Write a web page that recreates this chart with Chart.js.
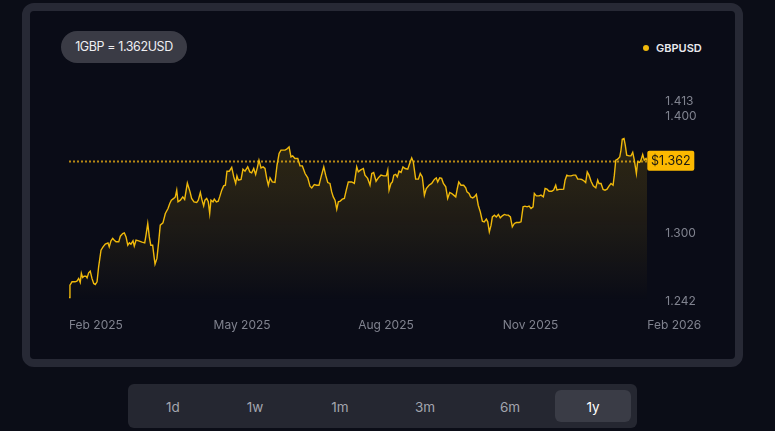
<!DOCTYPE html>
<html>
<head>
<meta charset="utf-8">
<script src="https://cdn.jsdelivr.net/npm/chart.js@4/dist/chart.umd.min.js"></script>
<style>
  html, body { margin:0; padding:0; }
  body { width:775px; height:431px; background:#0b0d17; position:relative; overflow:hidden; font-family: Inter, "Noto Sans", sans-serif; }
  #card { position:absolute; left:22px; top:3px; width:721px; height:364px; box-sizing:border-box; border:8px solid #272935; border-radius:12px; background:#0a0c17; }
  #chartwrap { position:absolute; left:0; top:0; width:775px; height:431px; }
  #pill { position:absolute; left:61px; top:31px; width:126px; height:32px; border-radius:16px; background:#3a3b45; color:#eeeef2; font-size:12.5px; line-height:32px; text-align:center; letter-spacing:-0.4px; }
  #legend { position:absolute; left:643px; top:40px; height:16px; display:flex; align-items:center; color:#e9e9ee; font-size:11px; font-weight:600; }
  #legend .dot { width:6px; height:6px; border-radius:3px; background:#f0b90b; margin-right:7px; }
  #bar { position:absolute; left:128px; top:384px; width:509px; height:44px; border-radius:6px; background:#252731; }
  .btn { position:absolute; top:0; height:44px; line-height:46px; width:76px; text-align:center; color:#a3a5ae; font-size:13.5px; }
  .btn.sel { top:6px; height:32px; line-height:34px; background:#3a3c46; border-radius:6px; color:#ffffff; }
</style>
</head>
<body>
<div id="card"></div>
<div id="pill"></div>
<div id="legend"><span class="dot"></span><span id="legendText">GBPUSD</span></div>
<div id="bar"></div>
<div id="chartwrap"><canvas id="c" width="775" height="431"></canvas></div>
<script>
// ---- data ----
const seriesName = "GBPUSD";
// day offset from start (Feb 2025) for each observation
const days = [0,0.6,1.9,3.8,5.0,6.1,7.1,7.8,8.6,9.5,10.7,11.4,12.4,13.4,14.5,15.6,16.6,17.7,18.7,20.2,21.5,22.9,24.6,25.4,26.5,27.6,28.6,29.7,31.4,32.4,33.9,34.9,36.0,37.1,38.1,39.1,40.4,41.2,42.3,44.0,46.1,47.8,48.6,49.7,50.7,51.6,52.8,53.7,54.3,55.5,56.6,57.6,59.3,60.8,62.5,63.6,64.6,66.1,67.1,68.0,68.8,70.3,71.8,73.0,74.7,76.4,77.4,78.9,80.6,81.6,82.9,83.8,85.0,85.8,86.9,87.9,88.8,89.6,90.9,91.7,93.0,94.2,95.1,96.4,97.6,98.7,99.7,101.2,102.7,104.0,105.2,106.0,106.9,108.6,109.8,111.1,112.8,114.1,115.3,116.6,117.8,118.9,119.9,121.2,122.5,123.7,124.8,125.8,126.9,128.3,130.0,131.3,132.6,133.8,136.3,137.4,138.9,140.1,141.2,142.6,144.4,145.8,147.3,149.0,150.7,152.1,153.2,154.8,156.3,157.8,159.1,160.8,162.0,163.3,164.7,165.8,166.8,167.9,169.0,170.0,171.2,172.5,173.8,175.0,176.3,178.4,180.1,181.6,182.6,183.9,185.8,186.8,188.5,190.0,191.1,192.3,193.8,195.2,196.9,198.6,200.3,201.2,202.0,203.2,204.1,205.0,206.2,207.2,208.3,209.6,210.8,212.1,213.8,215.0,216.3,217.3,218.8,220.5,221.7,223.0,224.3,225.5,227.2,228.9,230.6,231.8,232.7,234.0,235.2,236.3,237.8,239.0,240.3,241.6,242.8,244.1,245.1,246.0,247.4,249.1,250.4,251.2,252.5,253.5,254.8,255.8,257.1,258.3,259.6,260.9,262.1,263.4,264.3,265.3,266.4,267.2,268.5,269.7,271.0,272.2,273.5,274.8,276.0,277.3,278.6,279.8,281.1,282.4,284.1,285.3,286.6,287.8,289.1,290.4,291.6,292.9,293.7,295.0,296.7,297.9,299.4,300.5,301.7,303.0,304.7,305.9,307.2,308.0,309.3,311.0,312.2,313.1,314.2,315.2,316.9,318.3,319.8,321.1,322.5,323.6,325.3,326.1,327.1,328.2,329.5,330.9,332.5,333.7,334.5,335.8,337.1,338.3,339.6,340.8,342.1,343.4,344.2,345.1,346.3,347.6,348.4,349.2,350.3,351.1,352.0,353.5,354.7,355.8,356.8,358.1,358.9,360.2,361.0,362.1,363.1,364.2,365.0];
const rates = [1.2450,1.2556,1.2584,1.2584,1.2590,1.2613,1.2579,1.2656,1.2621,1.2632,1.2632,1.2618,1.2661,1.2675,1.2613,1.2570,1.2561,1.2584,1.2712,1.2855,1.2883,1.2906,1.2917,1.2883,1.2934,1.2955,1.2940,1.2926,1.2926,1.2974,1.2997,1.3003,1.2968,1.2897,1.2917,1.2906,1.2934,1.2889,1.2940,1.2934,1.2923,1.2917,1.2983,1.3083,1.2968,1.2897,1.2897,1.2797,1.2735,1.2784,1.2926,1.3068,1.3088,1.3168,1.3211,1.3254,1.3282,1.3297,1.3310,1.3368,1.3268,1.3282,1.3310,1.3288,1.3428,1.3353,1.3297,1.3268,1.3262,1.3282,1.3348,1.3291,1.3233,1.3282,1.3297,1.3268,1.3168,1.3282,1.3268,1.3291,1.3268,1.3274,1.3310,1.3368,1.3404,1.3410,1.3530,1.3530,1.3562,1.3481,1.3425,1.3490,1.3453,1.3459,1.3547,1.3530,1.3567,1.3524,1.3516,1.3553,1.3502,1.3562,1.3624,1.3558,1.3567,1.3553,1.3468,1.3410,1.3473,1.3438,1.3433,1.3581,1.3681,1.3710,1.3710,1.3718,1.3738,1.3652,1.3661,1.3639,1.3639,1.3575,1.3575,1.3510,1.3473,1.3402,1.3387,1.3416,1.3410,1.3410,1.3481,1.3567,1.3496,1.3433,1.3425,1.3353,1.3310,1.3282,1.3205,1.3268,1.3274,1.3291,1.3297,1.3368,1.3438,1.3438,1.3425,1.3567,1.3524,1.3539,1.3553,1.3496,1.3468,1.3410,1.3510,1.3519,1.3444,1.3473,1.3496,1.3490,1.3490,1.3539,1.3368,1.3425,1.3438,1.3496,1.3502,1.3481,1.3530,1.3519,1.3567,1.3553,1.3547,1.3596,1.3644,1.3610,1.3462,1.3462,1.3510,1.3481,1.3325,1.3382,1.3410,1.3425,1.3459,1.3473,1.3438,1.3473,1.3468,1.3425,1.3396,1.3297,1.3348,1.3339,1.3325,1.3310,1.3382,1.3438,1.3410,1.3410,1.3387,1.3353,1.3339,1.3310,1.3302,1.3310,1.3331,1.3239,1.3182,1.3103,1.3097,1.3120,1.3097,1.3011,1.3068,1.3139,1.3154,1.3139,1.3160,1.3131,1.3148,1.3160,1.3154,1.3154,1.3139,1.3054,1.3083,1.3091,1.3091,1.3097,1.3225,1.3231,1.3225,1.3231,1.3211,1.3225,1.3339,1.3319,1.3319,1.3325,1.3310,1.3382,1.3376,1.3359,1.3359,1.3368,1.3410,1.3368,1.3374,1.3374,1.3376,1.3453,1.3496,1.3490,1.3490,1.3496,1.3496,1.3462,1.3462,1.3459,1.3444,1.3433,1.3524,1.3496,1.3444,1.3404,1.3387,1.3453,1.3425,1.3425,1.3374,1.3368,1.3376,1.3402,1.3425,1.3410,1.3496,1.3624,1.3632,1.3652,1.3710,1.3803,1.3809,1.3752,1.3667,1.3661,1.3661,1.3690,1.3624,1.3510,1.3610,1.3604,1.3624,1.3673,1.3624,1.3639,1.3620];
const xTickLabels = ["Feb 2025", "May 2025", "Aug 2025", "Nov 2025", "Feb 2026"];
const yTickValues = [1.242, 1.300, 1.400, 1.413];
const rangeButtons = ["1d", "1w", "1m", "3m", "6m", "1y"];
const selectedRange = "1y";

// ---- HTML chrome ----
const last = rates[rates.length - 1];
document.getElementById('pill').textContent = '1GBP = ' + last.toFixed(3) + 'USD';
document.getElementById('legendText').textContent = seriesName;
const bar = document.getElementById('bar');
const btnCenters = [45, 127, 212, 297, 382, 465];
rangeButtons.forEach((b, i) => {
  const d = document.createElement('div');
  d.className = 'btn' + (b === selectedRange ? ' sel' : '');
  d.textContent = b;
  d.style.left = (btnCenters[i] - 38) + 'px';
  bar.appendChild(d);
});

// ---- chart ----
const LINE = '#f0b90b';
const xSpan = days[days.length - 1] - days[0];

const priceTag = {
  id: 'priceTag',
  beforeDatasetsDraw(chart) {
    const {ctx, chartArea, scales} = chart;
    const y = Math.round(scales.y.getPixelForValue(last)) + 0.5;
    ctx.save();
    ctx.strokeStyle = 'rgba(214,160,20,0.85)';
    ctx.lineWidth = 2;
    ctx.setLineDash([2, 2]);
    ctx.beginPath();
    ctx.moveTo(chartArea.left, y);
    ctx.lineTo(chartArea.right, y);
    ctx.stroke();
    ctx.restore();
  },
  afterDatasetsDraw(chart) {
    const {ctx, chartArea, scales} = chart;
    const y = scales.y.getPixelForValue(last);
    const x = chartArea.right;
    const w = 47, h = 20;
    ctx.save();
    ctx.fillStyle = '#fcb900';
    ctx.beginPath();
    ctx.roundRect(x, y - h / 2, w, h, 2);
    ctx.fill();
    ctx.fillStyle = '#1c1a12';
    ctx.font = '12.5px Inter, "Noto Sans", sans-serif';
    ctx.textAlign = 'center';
    ctx.textBaseline = 'middle';
    ctx.fillText('$' + last.toFixed(3), x + w / 2, y + 1);
    ctx.restore();
  }
};

new Chart(document.getElementById('c'), {
  type: 'line',
  data: {
    datasets: [{
      label: seriesName,
      data: days.map((d, i) => ({x: d, y: rates[i]})),
      borderColor: LINE,
      borderWidth: 1.4,
      pointRadius: 0,
      tension: 0,
      fill: 'start',
      backgroundColor(ctx) {
        const ca = ctx.chart.chartArea;
        if (!ca) return 'rgba(240,185,11,0.1)';
        const g = ctx.chart.ctx.createLinearGradient(0, ca.top, 0, ca.bottom);
        g.addColorStop(0, 'rgba(240,185,11,0.18)');
        g.addColorStop(0.45, 'rgba(240,185,11,0.12)');
        g.addColorStop(0.92, 'rgba(240,185,11,0.02)');
        g.addColorStop(1, 'rgba(240,185,11,0)');
        return g;
      }
    }]
  },
  options: {
    responsive: false,
    animation: false,
    layout: { padding: { left: 69, top: 101, right: 67.7, bottom: 90 } },
    plugins: { legend: { display: false }, tooltip: { enabled: false } },
    scales: {
      x: {
        type: 'linear',
        min: days[0],
        max: days[days.length - 1],
        grid: { display: false },
        border: { display: false },
        afterFit(s) { s.height = 40; },
        afterBuildTicks(s) { s.ticks = xTickLabels.map((_, i) => ({ value: days[0] + i * xSpan / (xTickLabels.length - 1) })); },
        ticks: {
          autoSkip: false, maxRotation: 0, align: 'start', padding: 9,
          color: '#80838f',
          font: { family: 'Inter, "Noto Sans", sans-serif', size: 12 },
          callback: (v, i) => xTickLabels[i]
        }
      },
      y: {
        position: 'right',
        min: Math.min(...yTickValues),
        max: Math.max(...yTickValues),
        grid: { display: false },
        border: { display: false },
        afterFit(s) { s.width = 60; },
        afterBuildTicks(s) { s.ticks = yTickValues.map(v => ({ value: v })); },
        ticks: {
          padding: 10,
          color: '#80838f',
          font: { family: 'Inter, "Noto Sans", sans-serif', size: 12 },
          callback: v => Number(v).toFixed(3)
        }
      }
    }
  },
  plugins: [priceTag]
});
</script>
</body>
</html>
